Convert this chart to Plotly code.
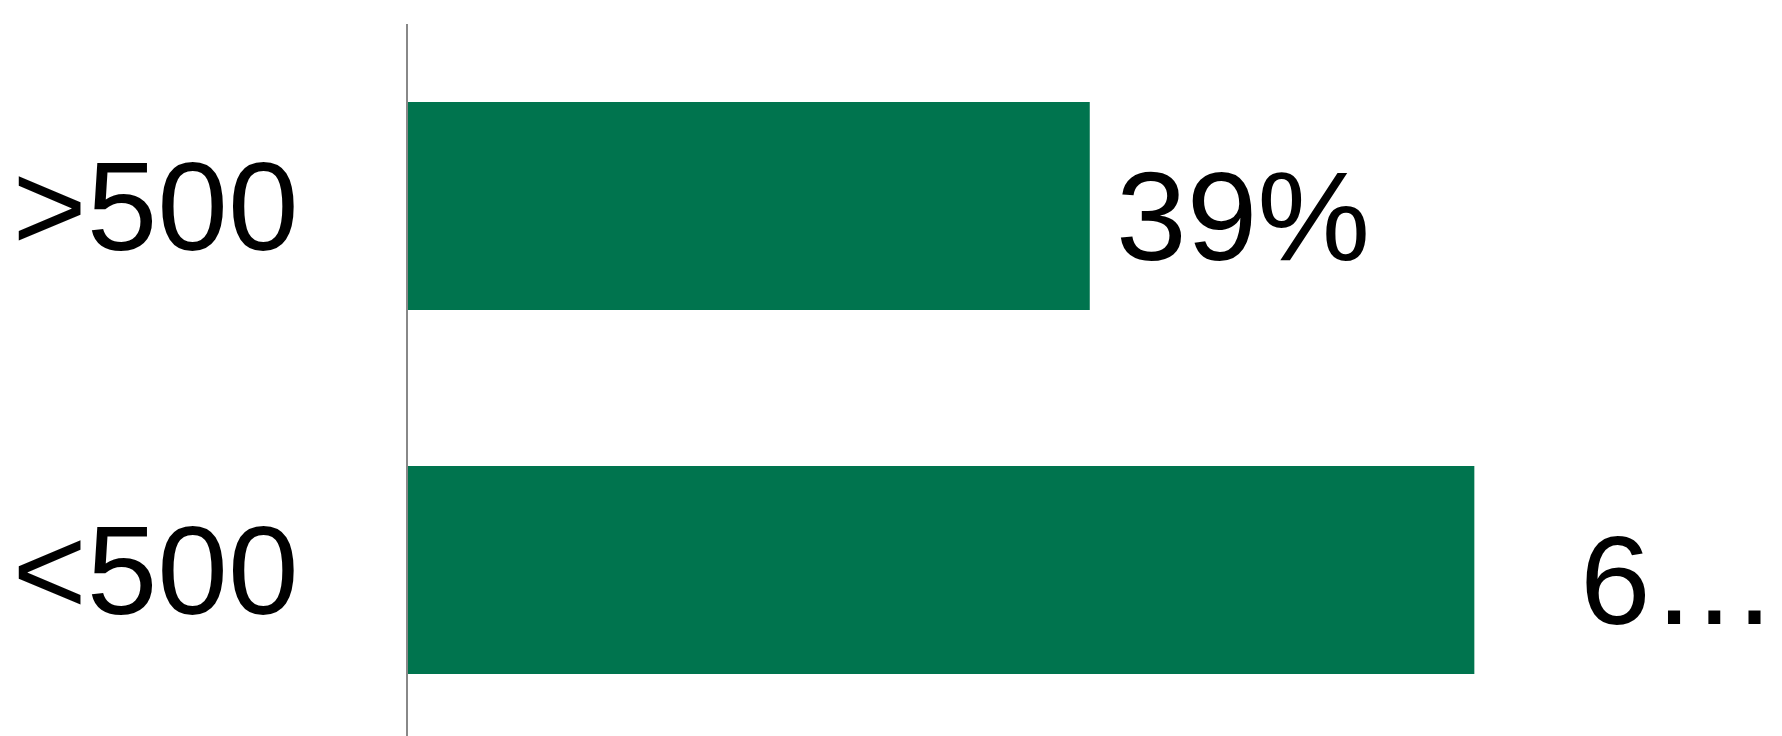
import plotly.graph_objects as go

categories = [">500", "<500"]
values = [39, 61]
labels = ["39%", "6…"]

BAR_COLOR = "#00744E"
FONT = "Liberation Sans, Arial, sans-serif"
label_xshift = [24, 104]

fig = go.Figure()
fig.add_trace(go.Bar(
    x=values,
    y=categories,
    orientation="h",
    marker=dict(color=BAR_COLOR, line=dict(width=0)),
    hoverinfo="skip",
))

for v, c, t, dx in zip(values, categories, labels, label_xshift):
    fig.add_annotation(
        x=v, y=c, text=t, showarrow=False,
        xanchor="left", yanchor="middle",
        xshift=dx, yshift=-10,
        font=dict(family=FONT, size=127, color="#000000"),
    )

fig.update_layout(
    width=1774,
    height=728,
    margin=dict(l=400, r=0, t=16, b=0, autoexpand=False),
    paper_bgcolor="white",
    plot_bgcolor="white",
    bargap=0.429,
    showlegend=False,
    xaxis=dict(
        range=[0, 78.6],
        visible=False,
        showgrid=False,
        zeroline=False,
        automargin=False,
    ),
    yaxis=dict(
        type="category",
        categoryorder="array",
        categoryarray=categories,
        range=[1.456, -0.5],
        showline=True,
        linecolor="#888888",
        linewidth=2,
        showgrid=False,
        zeroline=False,
        ticks="",
        automargin=False,
        ticklabelstandoff=82,
        tickfont=dict(family=FONT, size=127, color="#000000"),
    ),
)

fig.write_html("out.html")
